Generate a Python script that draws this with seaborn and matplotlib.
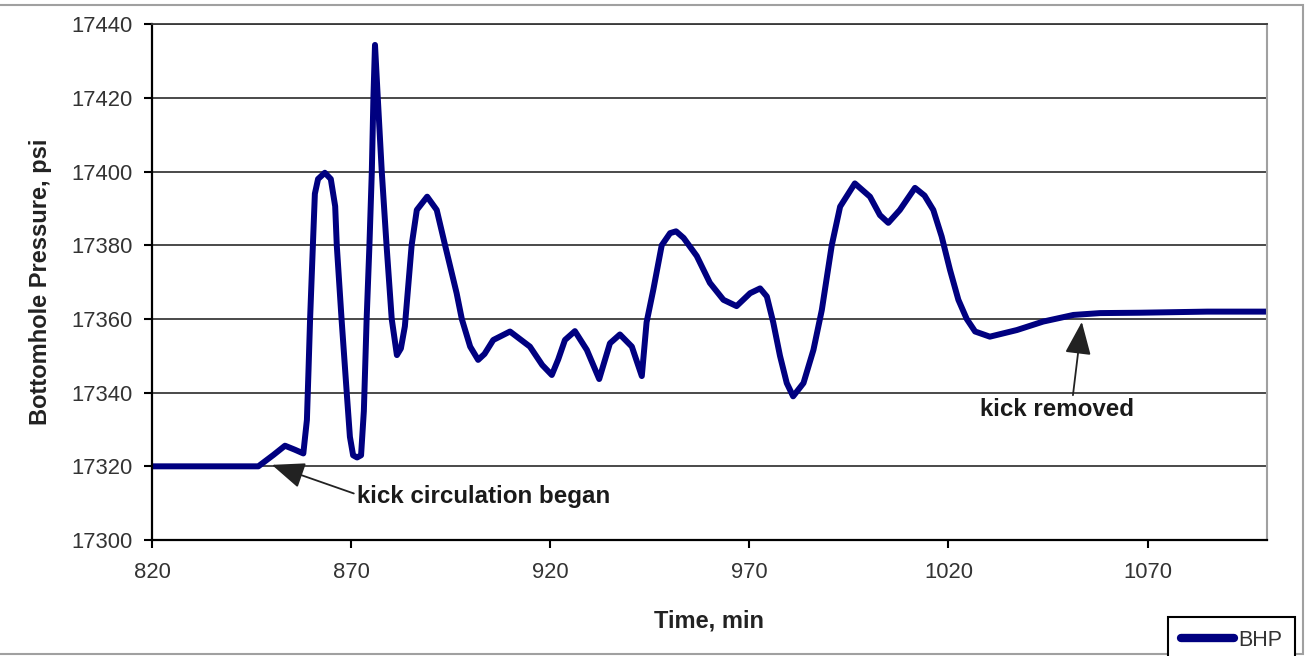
import matplotlib
matplotlib.use("Agg")
import matplotlib.pyplot as plt
from matplotlib.lines import Line2D
from matplotlib.patches import Rectangle
import pandas as pd
import seaborn as sns

# Bottomhole pressure record during kick circulation
time_min = [
    820.0, 835.0, 846.7, 850.5, 853.4, 855.9, 858.0, 858.9, 859.3, 859.7,
    860.4, 860.9, 861.7, 863.4, 864.9, 866.0, 866.4, 867.6, 868.9, 869.7,
    870.5, 871.5, 872.5, 873.2, 873.9, 874.6, 875.2, 875.6, 876.0, 876.7,
    877.7, 878.9, 880.2, 881.5, 882.5, 883.5, 885.2, 886.5, 889.1, 891.5,
    893.6, 896.5, 897.8, 899.9, 901.9, 903.5, 905.7, 909.9, 914.9, 918.0,
    920.4, 922.0, 923.7, 926.2, 929.2, 932.3, 935.0, 937.5, 940.5, 943.0,
    944.2, 945.9, 948.0, 950.1, 951.6, 953.5, 956.8, 960.1, 963.5, 966.8,
    970.2, 972.7, 974.4, 976.0, 977.7, 979.4, 981.0, 983.6, 986.1, 988.2,
    990.7, 992.8, 996.5, 1000.3, 1002.8, 1004.9, 1007.8, 1011.6, 1014.0, 1016.2,
    1018.3, 1020.4, 1022.5, 1024.6, 1026.7, 1030.4, 1037.2, 1043.8, 1051.4, 1058.1,
    1068.1, 1085.0, 1100.0,
]
bhp_psi = [
    17320.0, 17320.0, 17320.0, 17323.1, 17325.6, 17324.5, 17323.5, 17332.6, 17346.0, 17360.0,
    17380.0, 17394.0, 17398.0, 17399.7, 17398.0, 17390.6, 17380.0, 17360.0, 17340.0, 17328.0,
    17323.0, 17322.4, 17323.0, 17335.0, 17360.0, 17380.0, 17400.0, 17420.0, 17434.4, 17420.0,
    17400.0, 17380.0, 17360.0, 17350.2, 17352.0, 17358.0, 17380.0, 17389.6, 17393.2, 17389.6,
    17380.0, 17367.0, 17360.0, 17352.5, 17348.9, 17350.5, 17354.3, 17356.6, 17352.5, 17347.5,
    17344.8, 17349.0, 17354.3, 17356.7, 17351.6, 17343.7, 17353.4, 17355.8, 17352.5, 17344.5,
    17359.1, 17368.0, 17380.0, 17383.3, 17383.8, 17382.0, 17377.1, 17369.8, 17365.2, 17363.5,
    17367.0, 17368.3, 17366.1, 17359.1, 17350.0, 17342.6, 17339.0, 17342.6, 17351.6, 17362.4,
    17380.0, 17390.5, 17396.8, 17393.2, 17388.2, 17386.1, 17389.6, 17395.6, 17393.5, 17389.6,
    17382.4, 17373.3, 17365.2, 17360.0, 17356.6, 17355.2, 17357.0, 17359.3, 17361.1, 17361.6,
    17361.7, 17362.0, 17362.0,
]

x_ticks = [820, 870, 920, 970, 1020, 1070]
y_ticks = [17300, 17320, 17340, 17360, 17380, 17400, 17420, 17440]

line_color = "#000080"

sns.set_style("white")
plt.rcParams["font.family"] = ["Liberation Sans", "DejaVu Sans"]

W, H = 1307, 656
fig = plt.figure(figsize=(W / 100, H / 100), dpi=100)
ax = fig.add_axes([152 / W, 1 - 540 / H, (1267 - 152) / W, (540 - 24.3) / H])

df = pd.DataFrame({"Time, min": time_min, "BHP": bhp_psi})
sns.lineplot(data=df, x="Time, min", y="BHP", ax=ax, color=line_color,
             lw=4.3, legend=False, solid_capstyle="butt", solid_joinstyle="round",
             sort=False)

ax.set_xlim(820, 1100)
ax.set_ylim(17300, 17440)
ax.set_xticks(x_ticks)
ax.set_yticks(y_ticks)
ax.set_xticklabels([str(v) for v in x_ticks])
ax.set_yticklabels([str(v) for v in y_ticks])

ax.yaxis.grid(True, color="#3a3a3a", lw=1.3)
ax.xaxis.grid(False)
ax.set_axisbelow(True)

for side in ("left", "bottom"):
    ax.spines[side].set_color("black")
    ax.spines[side].set_linewidth(1.6)
ax.spines["top"].set_color("#3a3a3a")
ax.spines["top"].set_linewidth(1.3)
ax.spines["right"].set_color("#a0a0a0")
ax.spines["right"].set_linewidth(1.5)

ax.tick_params(axis="both", which="major", direction="out", length=6, width=1.5,
               color="black", labelsize=15.8, labelcolor="#333333",
               left=True, bottom=True)
ax.tick_params(axis="y", pad=8)
ax.tick_params(axis="x", pad=10)

ax.set_xlabel("Time, min", fontsize=17, fontweight="bold", color="#222222", labelpad=19)
ax.set_ylabel("Bottomhole Pressure, psi", fontsize=17, fontweight="bold",
              color="#222222", labelpad=14)

arrow_kw = dict(arrowstyle="-|>,head_length=0.6,head_width=0.24", mutation_scale=34,
                color="#222222", lw=1.3, shrinkA=0, shrinkB=0)

ax.annotate("kick circulation began", xy=(850.1, 17320.4), xytext=(871.5, 17311.7),
            ha="left", va="center", fontsize=17.4, fontweight="bold", color="#1a1a1a",
            arrowprops=dict(arrow_kw, relpos=(0.0, 0.6)))
ax.annotate("kick removed", xy=(1053.5, 17359.2), xytext=(1047.3, 17335.3),
            ha="center", va="center", fontsize=17.4, fontweight="bold", color="#1a1a1a",
            arrowprops=dict(arrow_kw, relpos=(0.6, 1.0)))

handle = Line2D([0], [0], color=line_color, lw=6, solid_capstyle="round")
leg = fig.legend(handles=[handle], labels=["BHP"], loc="upper left",
                 bbox_to_anchor=(1168 / W, 1 - 617 / H), bbox_transform=fig.transFigure,
                 frameon=True, fancybox=False, edgecolor="black", framealpha=1,
                 borderpad=0.6, borderaxespad=0, handlelength=2.45, handletextpad=0.2,
                 fontsize=15.5)
leg.get_frame().set_linewidth(1.5)
for t in leg.get_texts():
    t.set_color("#333333")

fig.patches.append(Rectangle((-0.01, 1 - 654 / H), 1303 / W + 0.01, (654 - 5) / H,
                             transform=fig.transFigure, fill=False,
                             ec="#a0a0a0", lw=1.5, zorder=0))

fig.savefig("out.png", dpi=100)
